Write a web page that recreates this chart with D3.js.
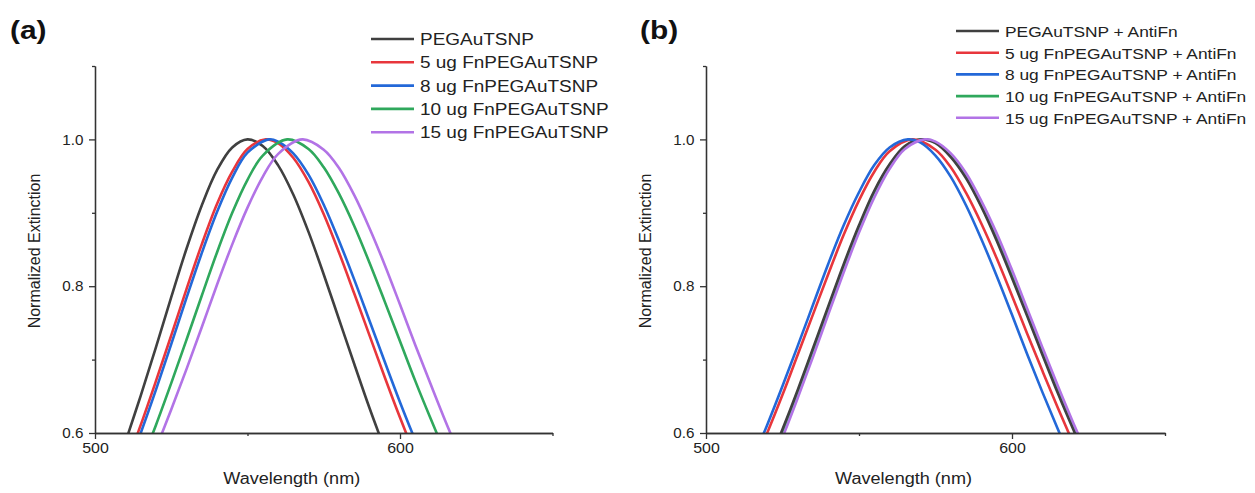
<!DOCTYPE html>
<html>
<head>
<meta charset="utf-8">
<script src="https://cdn.jsdelivr.net/npm/d3@7"></script>
<style>
  html, body { margin: 0; padding: 0; background: #fff; }
  svg { display: block; }
  text { font-family: "Liberation Sans", Arial, sans-serif; fill: #222; }
</style>
</head>
<body>
<svg id="chart" width="1255" height="493"></svg>
<script>
// Extinction spectra, [wavelength (nm), normalized extinction]
const seriesNamesA = ["PEGAuTSNP", "5 ug FnPEGAuTSNP", "8 ug FnPEGAuTSNP", "10 ug FnPEGAuTSNP", "15 ug FnPEGAuTSNP"];
const seriesNamesB = ["PEGAuTSNP + AntiFn", "5 ug FnPEGAuTSNP + AntiFn", "8 ug FnPEGAuTSNP + AntiFn", "10 ug FnPEGAuTSNP + AntiFn", "15 ug FnPEGAuTSNP + AntiFn"];
const seriesColors = ["#404040", "#e8363c", "#2368d8", "#2fa85c", "#b273e6"];

// Panel (a)
const pegA = [[510,0.588],[515,0.651],[520,0.717],[525,0.785],[530,0.851],[535,0.910],[540,0.958],[545,0.989],[550,1.0],[555,0.991],[560,0.965],[565,0.925],[570,0.874],[575,0.816],[580,0.755],[585,0.694],[590,0.634],[595,0.578]];
const fn5A = [[510,0.555],[515,0.611],[520,0.671],[525,0.733],[530,0.796],[535,0.857],[540,0.912],[545,0.956],[550,0.987],[556,1.0],[560,0.995],[565,0.975],[570,0.942],[575,0.898],[580,0.846],[585,0.790],[590,0.733],[595,0.676],[600,0.621],[605,0.569]];
const fn8A = [[510,0.545],[515,0.600],[520,0.659],[525,0.721],[530,0.784],[535,0.845],[540,0.901],[545,0.948],[550,0.982],[557,1.0],[560,0.997],[565,0.981],[570,0.952],[575,0.911],[580,0.862],[585,0.809],[590,0.753],[595,0.697],[600,0.642],[605,0.590],[610,0.540]];
const fn10A = [[515,0.558],[520,0.611],[525,0.668],[530,0.727],[535,0.787],[540,0.846],[545,0.900],[550,0.945],[555,0.978],[563,1.0],[570,0.987],[575,0.962],[580,0.926],[585,0.882],[590,0.832],[595,0.779],[600,0.725],[605,0.671],[610,0.620],[615,0.571]];
const fn15A = [[520,0.579],[525,0.632],[530,0.687],[535,0.744],[540,0.802],[545,0.857],[550,0.907],[555,0.949],[560,0.980],[568,1.0],[575,0.986],[580,0.961],[585,0.924],[590,0.879],[595,0.829],[600,0.775],[605,0.720],[610,0.667],[615,0.615],[620,0.566]];

// Panel (b)
const pegB = [[520,0.554],[525,0.605],[530,0.659],[535,0.716],[540,0.773],[545,0.830],[550,0.883],[555,0.930],[560,0.966],[565,0.991],[570.5,1.0],[575,0.995],[580,0.976],[585,0.947],[590,0.908],[595,0.862],[600,0.811],[605,0.759],[610,0.706],[615,0.654],[620,0.605],[625,0.558]];
const fn5B = [[515,0.551],[520,0.600],[525,0.652],[530,0.707],[535,0.762],[540,0.817],[545,0.870],[550,0.917],[555,0.956],[560,0.984],[567.5,1.0],[575,0.986],[580,0.962],[585,0.927],[590,0.885],[595,0.838],[600,0.787],[605,0.735],[610,0.684],[615,0.634],[620,0.586],[625,0.540]];
const fn8B = [[515,0.561],[520,0.611],[525,0.664],[530,0.719],[535,0.775],[540,0.831],[545,0.883],[550,0.928],[555,0.965],[560,0.989],[566,1.0],[570,0.996],[575,0.978],[580,0.949],[585,0.910],[590,0.864],[595,0.814],[600,0.761],[605,0.707],[610,0.655],[615,0.605],[620,0.557]];
const fn10B = [[520,0.551],[525,0.602],[530,0.656],[535,0.713],[540,0.770],[545,0.827],[550,0.880],[555,0.928],[560,0.964],[565,0.990],[570.8,1.0],[575,0.996],[580,0.977],[585,0.949],[590,0.910],[595,0.865],[600,0.814],[605,0.762],[610,0.709],[615,0.657],[620,0.608],[625,0.560]];
const fn15B = [[520,0.544],[525,0.594],[530,0.648],[535,0.704],[540,0.762],[545,0.819],[550,0.873],[555,0.921],[560,0.960],[565,0.987],[571.5,1.0],[575,0.997],[580,0.981],[585,0.954],[590,0.916],[595,0.872],[600,0.822],[605,0.769],[610,0.716],[615,0.664],[620,0.614],[625,0.567]];

const xMajorTicks = [500, 600];
const xMinorTicks = [550, 650];
const yMajorTicks = [0.6, 0.8, 1.0];
const yMinorTicks = [0.7, 0.9, 1.1];

const svg = d3.select("#chart");
const SX = 1.13; // horizontal text stretch

function stretchedText(g, x, y, str, size, sx, anchor, weight) {
  return g.append("text")
    .attr("transform", `translate(${x},${y}) scale(${sx},1)`)
    .attr("text-anchor", anchor || "start")
    .style("font-size", size + "px")
    .style("font-weight", weight || "normal")
    .text(str);
}

function panel(opts) {
  const g = svg.append("g");
  const x = d3.scaleLinear().domain([500, 650]).range([opts.x0, opts.x1]);
  const y = d3.scaleLinear().domain([0.6, 1.1]).range([433, 66]);

  const clipId = "clip-" + opts.id;
  svg.append("defs").append("clipPath").attr("id", clipId)
    .append("rect").attr("x", opts.x0).attr("y", 66)
    .attr("width", opts.x1 - opts.x0).attr("height", 433 - 66);

  // spectra, painted in the given stacking order
  const line = d3.line().x(d => x(d[0])).y(d => y(d[1])).curve(d3.curveCatmullRom.alpha(0.5));
  g.append("g").attr("clip-path", `url(#${clipId})`)
    .selectAll("path").data(opts.order).join("path")
    .attr("d", i => line(opts.series[i]))
    .attr("fill", "none")
    .attr("stroke", i => seriesColors[i])
    .attr("stroke-width", 2.6)
    .attr("stroke-linejoin", "round");

  // axes
  const axisColor = "#333";
  const yAx = g.append("g").attr("transform", `translate(${opts.x0},0)`)
    .call(d3.axisLeft(y).tickValues(yMajorTicks).tickSize(6).tickSizeOuter(0).tickPadding(5).tickFormat(d3.format(".1f")));
  const yAxMin = g.append("g").attr("transform", `translate(${opts.x0},0)`)
    .call(d3.axisLeft(y).tickValues(yMinorTicks).tickSize(3).tickSizeOuter(0).tickFormat(""));
  const xAx = g.append("g").attr("transform", `translate(0,433)`)
    .call(d3.axisBottom(x).tickValues(xMajorTicks).tickSize(6).tickSizeOuter(0).tickPadding(4).tickFormat(d3.format("d")));
  const xAxMin = g.append("g").attr("transform", `translate(0,433)`)
    .call(d3.axisBottom(x).tickValues(xMinorTicks).tickSize(3).tickSizeOuter(0).tickFormat(""));
  [yAx, yAxMin, xAx, xAxMin].forEach(a => {
    a.select(".domain").attr("stroke", axisColor).attr("stroke-width", 1.3);
    a.selectAll(".tick line").attr("stroke", axisColor).attr("stroke-width", 1.3);
    a.selectAll("text").style("font-size", "14.5px").style("font-family", '"Liberation Sans", Arial, sans-serif').attr("fill", "#333");
  });
  yAx.selectAll(".tick text").attr("transform", "scale(1.05,1)");
  xAx.selectAll(".tick text").attr("transform", "scale(1.1,1)");

  // axis titles
  stretchedText(g, (opts.x0 + opts.x1) / 2 - 32, 484, "Wavelength (nm)", 16, SX, "middle");
  g.append("text")
    .attr("transform", `translate(${opts.x0 - 55},251) rotate(-90)`)
    .attr("text-anchor", "middle")
    .style("font-size", "16px")
    .text("Normalized Extinction");

  // panel label
  stretchedText(g, opts.labelX, 39, opts.label, 26, 1.15, "start", "bold").style("fill", "#111");

  // legend
  const lg = g.append("g");
  opts.names.forEach((name, i) => {
    const ly = opts.legY + i * opts.legStep;
    lg.append("line")
      .attr("x1", opts.legX).attr("x2", opts.legX + 43)
      .attr("y1", ly).attr("y2", ly)
      .attr("stroke", seriesColors[i]).attr("stroke-width", 2.6);
    stretchedText(lg, opts.legX + 49, ly + 6, name, opts.legFont, opts.legSX, "start");
  });
}

panel({
  id: "a", x0: 95, x1: 552.5, label: "(a)", labelX: 10,
  series: [pegA, fn5A, fn8A, fn10A, fn15A], order: [0, 1, 2, 3, 4], names: seriesNamesA,
  legX: 371, legY: 39, legStep: 23.3, legFont: 16.5, legSX: 1.15
});
panel({
  id: "b", x0: 706, x1: 1165, label: "(b)", labelX: 640,
  series: [pegB, fn5B, fn8B, fn10B, fn15B], order: [3, 0, 1, 2, 4], names: seriesNamesB,
  legX: 956, legY: 31, legStep: 21.7, legFont: 15.5, legSX: 1.12
});
</script>
</body>
</html>
